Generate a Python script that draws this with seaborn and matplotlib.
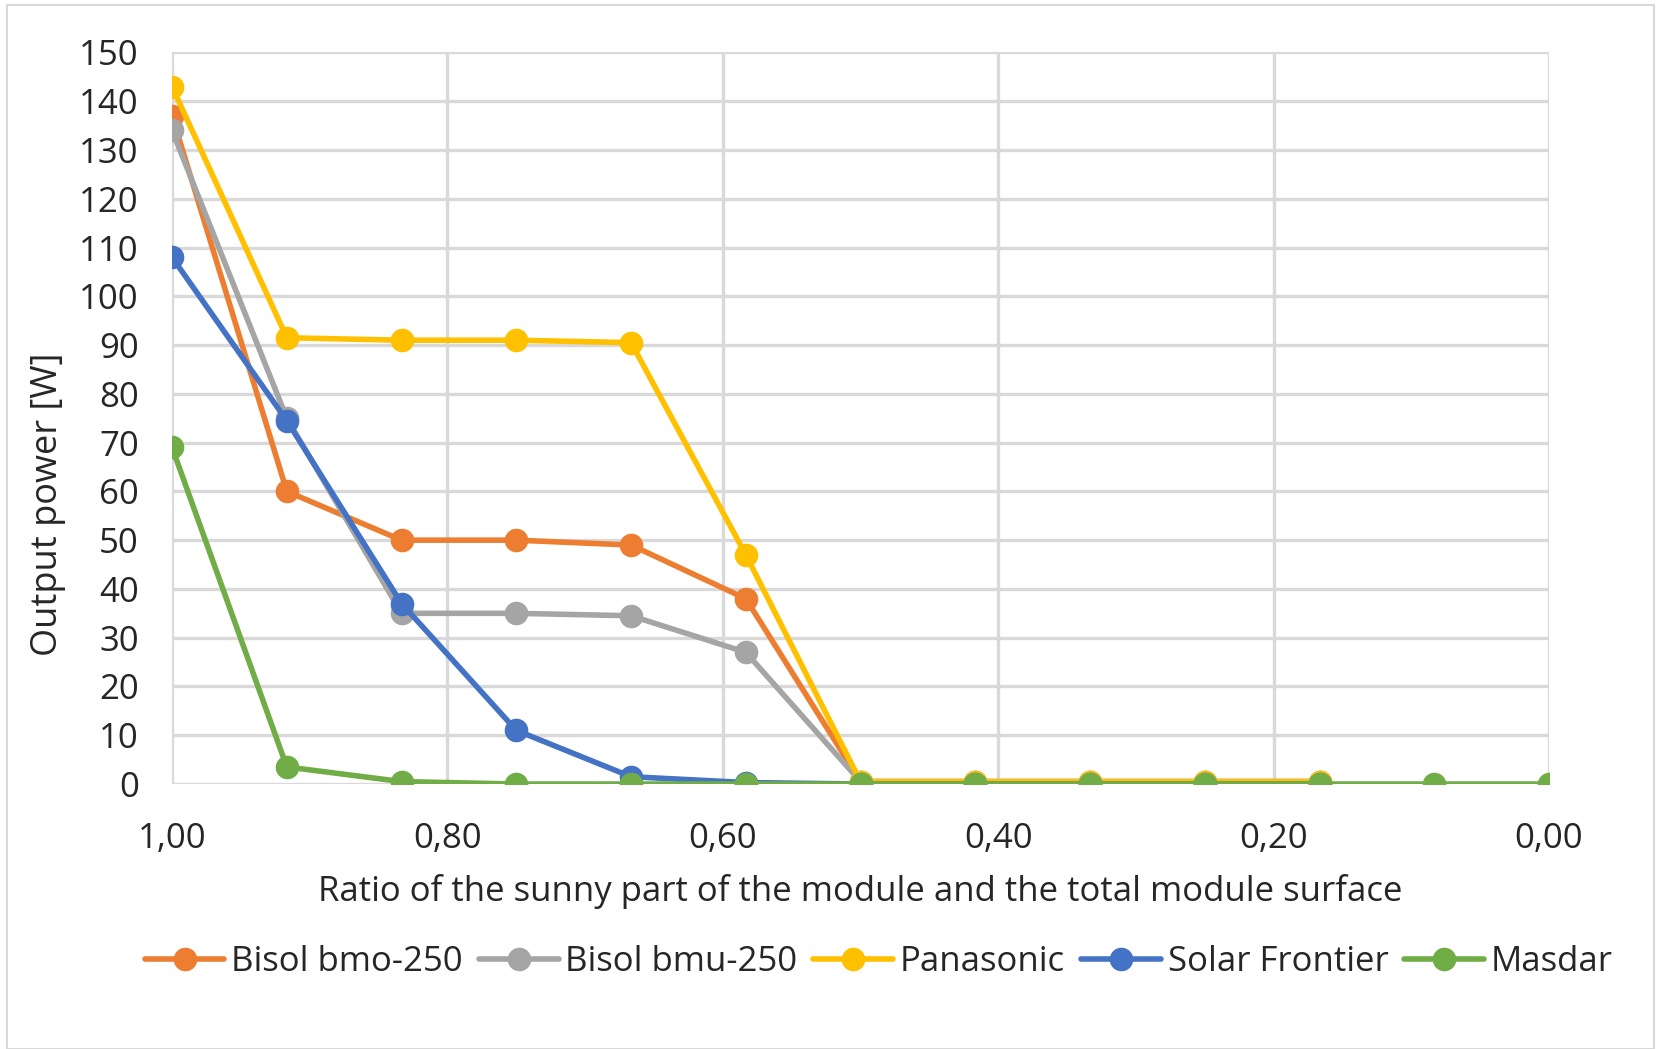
import numpy as np
import pandas as pd
import matplotlib.pyplot as plt
import seaborn as sns
from matplotlib.ticker import FuncFormatter
from matplotlib.patches import Rectangle

# ratio of sunny part (twelfths, from 1 down to 0)
ratio = [1.0, 11/12, 10/12, 9/12, 8/12, 7/12, 6/12, 5/12, 4/12, 3/12, 2/12, 1/12, 0.0]

bisol_bmo = [137, 60, 50, 50, 49, 38, 0.5, 0.5, 0.5, 0.5, 0.5, np.nan, np.nan]
bisol_bmu = [134, 75, 35, 35, 34.5, 27, 0.5, 0.5, 0.5, 0.5, 0.5, np.nan, np.nan]
panasonic = [143, 91.5, 91, 91, 90.5, 47, 0.5, 0.5, 0.5, 0.5, 0.5, np.nan, np.nan]
solar_frontier = [108, 74.5, 37, 11, 1.5, 0.3, 0, 0, 0, 0, 0, np.nan, np.nan]
masdar = [69, 3.5, 0.5, 0, 0, 0, 0, 0, 0, 0, 0, 0, 0]

series_names = ['Bisol bmo-250', 'Bisol bmu-250', 'Panasonic', 'Solar Frontier', 'Masdar']
series_vals = [bisol_bmo, bisol_bmu, panasonic, solar_frontier, masdar]
colors = ['#ED7D31', '#A5A5A5', '#FFC000', '#4472C4', '#70AD47']

df = pd.concat([pd.DataFrame({'ratio': ratio, 'power': v, 'module': n})
                for n, v in zip(series_names, series_vals)], ignore_index=True)
df = df.dropna()

sns.set_style('white')
plt.rcParams['font.family'] = ['Open Sans', 'DejaVu Sans']

fig = plt.figure(figsize=(16.61, 10.49), dpi=100)
ax = fig.add_axes([0.1036, 0.2526, 0.8290, 0.6974])

sns.lineplot(data=df, x='ratio', y='power', hue='module', hue_order=series_names,
             palette=colors, marker='o', markersize=17, markeredgewidth=0,
             linewidth=4, ax=ax, legend=True, sort=False)

ax.set_xlim(1.0, 0.0)
ax.set_ylim(0, 150)
ax.set_xticks([1.0, 0.8, 0.6, 0.4, 0.2, 0.0])
ax.set_yticks(range(0, 151, 10))
ax.xaxis.set_major_formatter(FuncFormatter(lambda v, p: f'{v:.2f}'.replace('.', ',')))
ax.grid(True, color='#D9D9D9', linewidth=2.4)
ax.set_axisbelow(True)
for s in ax.spines.values():
    s.set_visible(False)
ax.tick_params(axis='both', labelsize=25, colors='#262626', length=0)
ax.tick_params(axis='y', pad=24)
ax.tick_params(axis='x', pad=27)

ax.set_xlabel('Ratio of the sunny part of the module and the total module surface',
              fontsize=25, color='#262626', labelpad=13)
ax.set_ylabel('Output power [W]', fontsize=26, color='#262626')
ax.yaxis.set_label_coords(-0.077, 0.383)

handles, labels = ax.get_legend_handles_labels()
ax.legend_.remove()
fig.legend(handles, labels, loc='center', bbox_to_anchor=(0.529, 0.083), ncol=5,
           frameon=False, fontsize=25, handlelength=2.3, handletextpad=0.2,
           columnspacing=0.45, labelcolor='#262626')

# chart frame
fig.patches.append(Rectangle((0.004, 0.0), 0.992, 0.995, transform=fig.transFigure,
                             fill=False, edgecolor='#D9D9D9', linewidth=1.5))

fig.savefig('out.png', dpi=100)
